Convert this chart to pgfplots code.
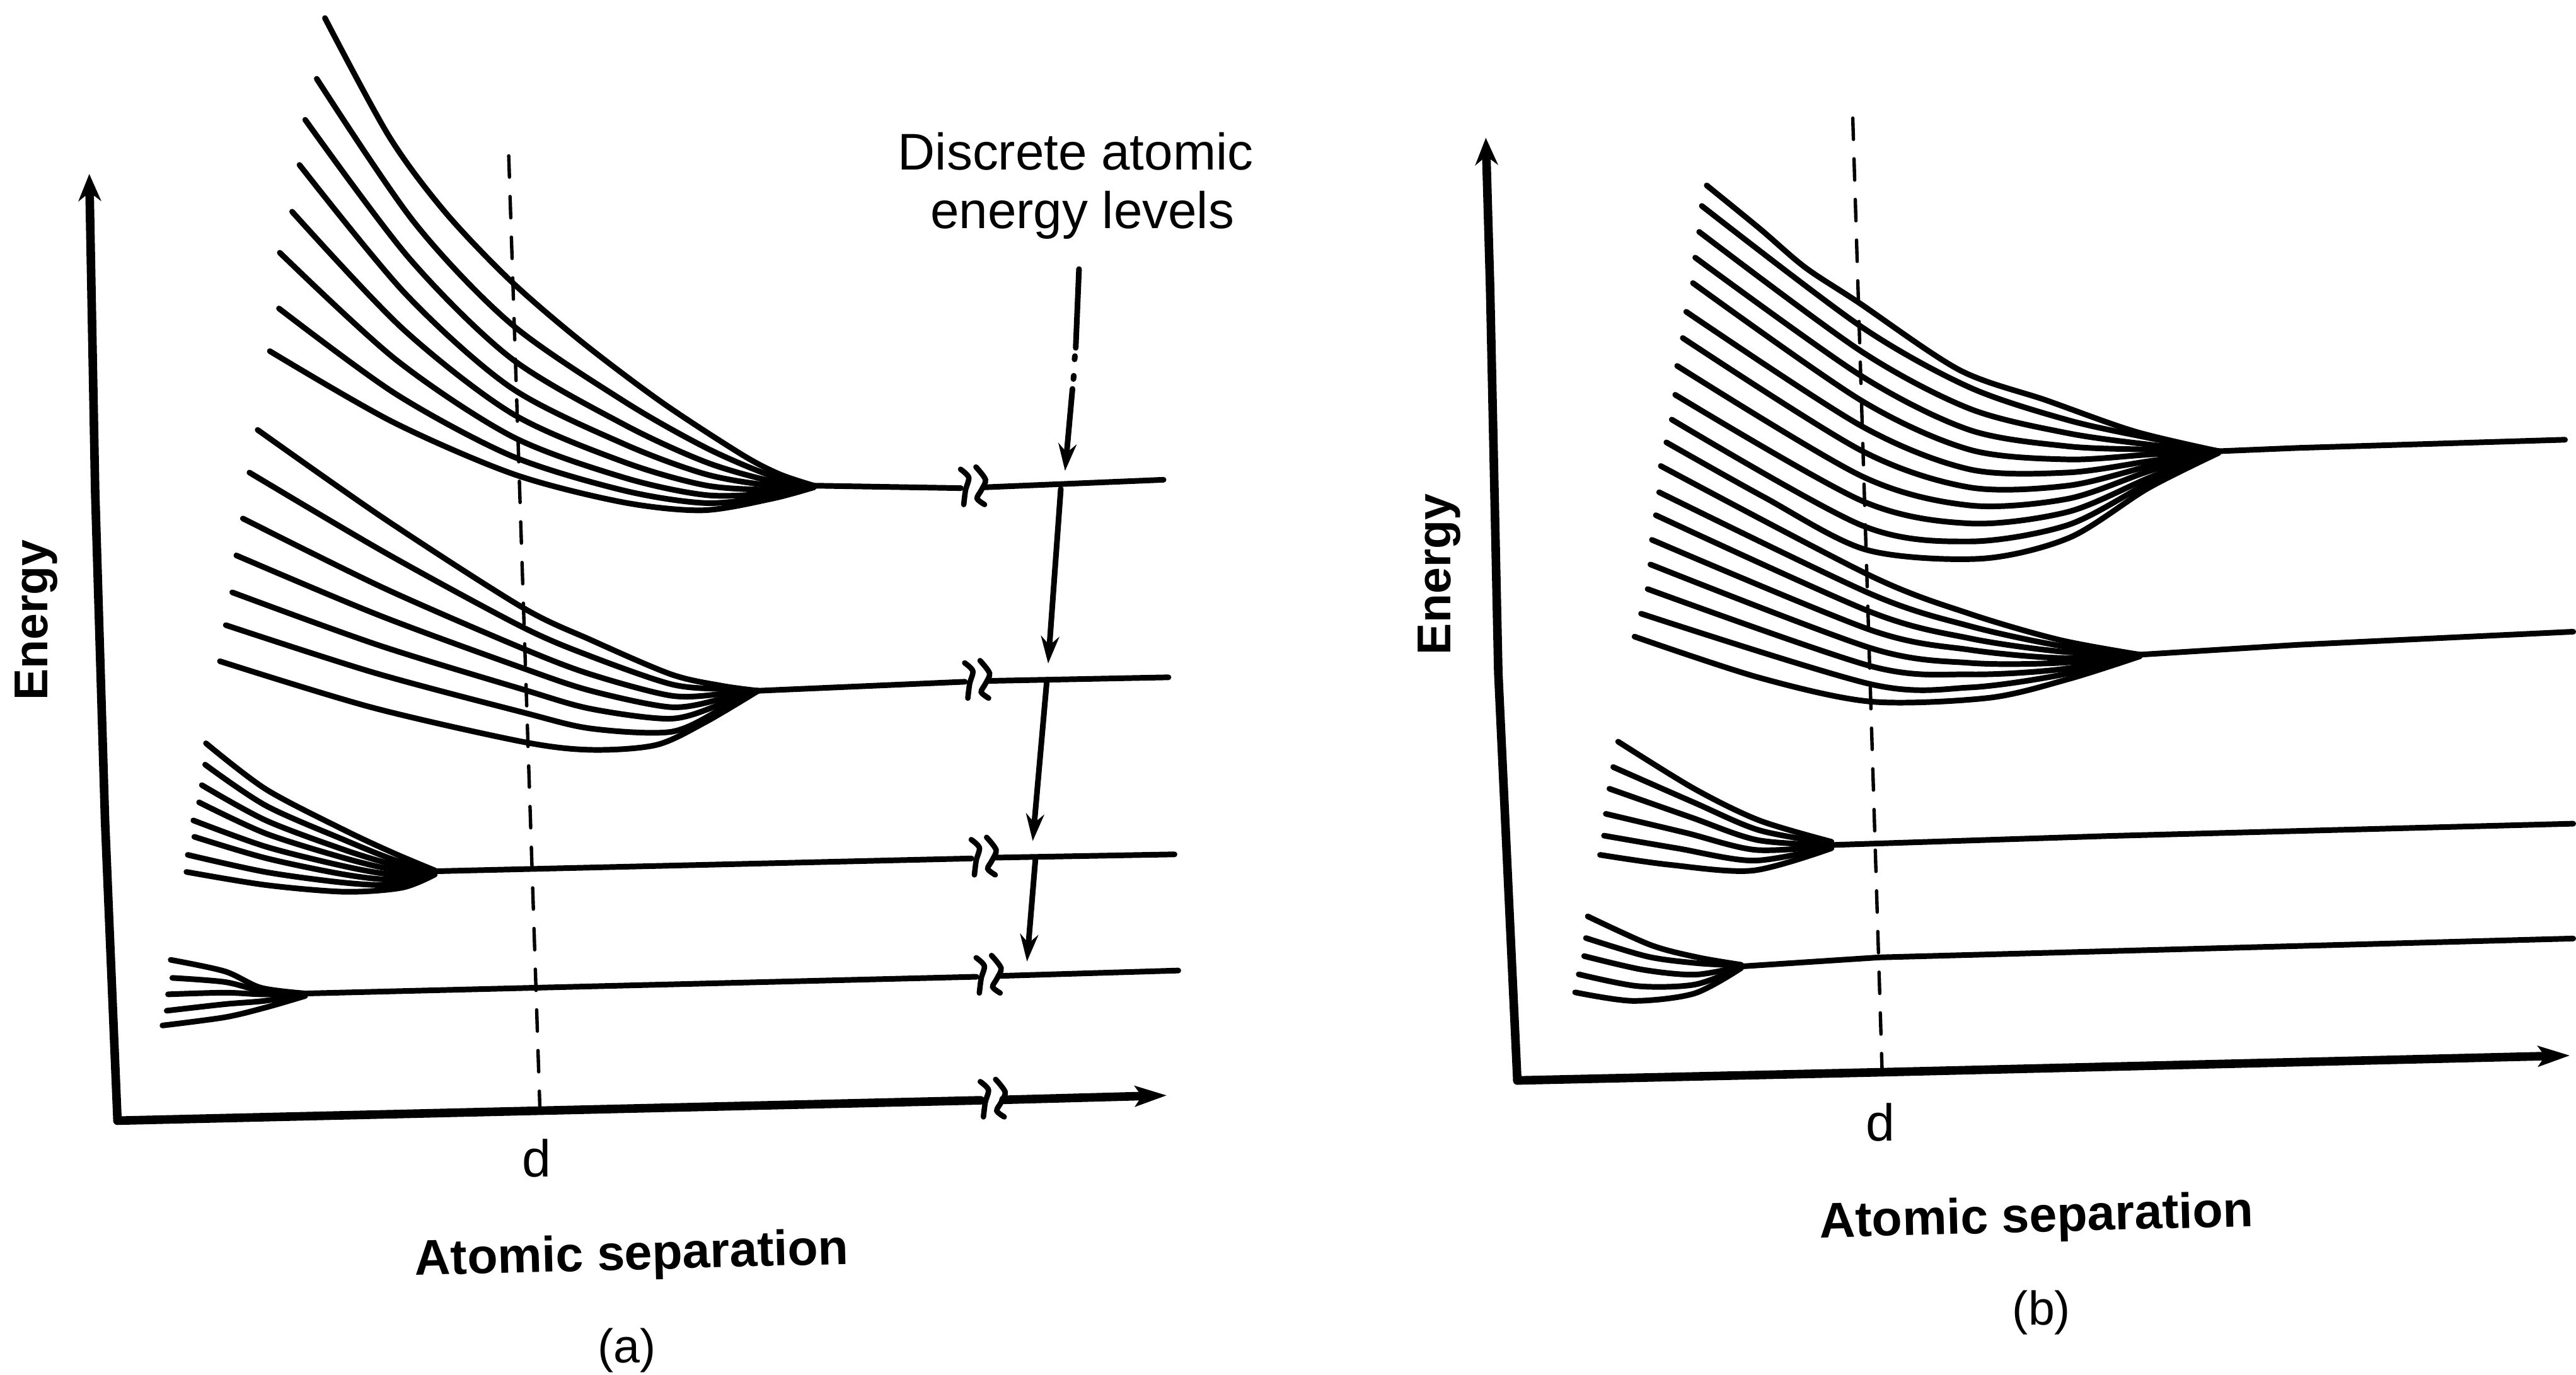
\documentclass[border=0pt]{standalone}
\usepackage{pgfplots}
\pgfplotsset{compat=1.18}
\usepackage{fontspec}
\setmainfont{Liberation Sans}
\usetikzlibrary{arrows.meta}

\newcommand{\brk}[2]{%
  \draw[line width=1.2pt, line cap=round, shift={(axis cs:#1,#2)}]
    plot[smooth] coordinates {(-2.6pt,4.1pt) (-0.8pt,2.3pt) (-1.5pt,-0.5pt) (-1.9pt,-3.7pt)};
  \draw[line width=1.2pt, line cap=round, shift={(axis cs:#1,#2)}]
    plot[smooth] coordinates {(0.8pt,4.6pt) (2.9pt,1.8pt) (2.0pt,-0.5pt) (1.05pt,-2.35pt) (2.7pt,-3.7pt)};
}

\begin{document}
\begin{tikzpicture}
\begin{axis}[
  scale only axis, width=20cm, height=10.689cm,
  xmin=0, xmax=1568, ymin=0, ymax=838, y dir=reverse,
  hide axis, clip=false,
  cycle list={{black,solid}},
  every axis plot/.append style={black, solid, line width=1.25pt, no markers, line cap=round, line join=round},
]
% ================= PANEL (a) =================
% axes
\addplot[black, line width=1.9pt, -{Stealth[length=6pt,width=5pt]}] coordinates {(71.6,683) (64,500) (58,300) (54.4,106)};
\addplot[black, line width=1.9pt] coordinates {(71.6,683) (597.5,670.6)};
\addplot[black, line width=1.9pt, -{Stealth[length=7pt,width=4.5pt,inset=1.5pt]}] coordinates {(611.5,670.3) (711,667.6)};
% dashed d line
\addplot[black, line width=0.75pt, dash pattern=on 4.7pt off 4.3pt] coordinates {(310,95) (329,676)};

% level 1 fan (a)
\addplot[black, smooth] coordinates {(198,11) (237,83) (271,129) (311,171) (354,208) (403,245) (452,277) (475,289) (496,296)};
\addplot[black, smooth] coordinates {(193,48) (252,135) (311,197) (380,244.4) (430,272.8) (470,290) (496,296)};
\addplot[black, smooth] coordinates {(186,73) (249,157) (311,218) (380,258.6) (430,281.6) (470,293.2) (496,296)};
\addplot[black, smooth] coordinates {(182.5,100.5) (247,179) (311,236) (380,270.5) (430,289) (470,295.9) (496,296)};
\addplot[black, smooth] coordinates {(178,129) (245,200) (312,252) (380,281.5) (430,295.8) (470,298.4) (496,296)};
\addplot[black, smooth] coordinates {(170.5,154) (241,219) (312,266) (380,291) (430,301.7) (470,300.6) (496,296)};
\addplot[black, smooth] coordinates {(170,188) (241,240) (312,278) (380,298.9) (430,306.6) (470,302.4) (496,296)};
\addplot[black, smooth] coordinates {(164.4,214) (239,257) (313,289) (379,306) (428,311) (470,304) (496,297)};
\addplot[black] coordinates {(496,296) (585.5,297.5)};
\addplot[black] coordinates {(599.5,297) (709,292.4)};

% level 2 fan (a)
\addplot[black, smooth] coordinates {(157,262) (234,316) (318,370) (360,390) (409,411) (440,418) (462,421)};
\addplot[black, smooth] coordinates {(152,288) (235,337) (318,382) (360,400) (409,417) (440,420) (462,421)};
\addplot[black, smooth] coordinates {(148,316) (233,358) (318,395) (360,411) (409,424) (440,423) (462,421)};
\addplot[black, smooth] coordinates {(144,338.5) (231,375) (318,407) (360,421) (409,431) (440,426) (462,421)};
\addplot[black, smooth] coordinates {(141.5,361) (230,393) (318,420) (360,432) (409,438) (440,429) (462,421)};
\addplot[black, smooth] coordinates {(137.6,381) (228,410) (318,434) (360,444) (409,446) (440,432) (462,421)};
\addplot[black, smooth] coordinates {(134,403) (226,431) (318,452) (360,457) (400,454) (430,440) (462,421)};
\addplot[black] coordinates {(462,421) (588,415.5)};
\addplot[black] coordinates {(602,415) (712,412.8)};

% level 3 fan (a)
\addplot[black, smooth] coordinates {(125.5,453) (162,481) (210,506) (240,520) (265,530.5)};
\addplot[black, smooth] coordinates {(125,466) (162,491) (210,512) (240,524) (265,531)};
\addplot[black, smooth] coordinates {(123,478.5) (162,500) (210,518) (240,527) (265,531)};
\addplot[black, smooth] coordinates {(121.3,489) (162,508) (210,523) (240,530) (265,531)};
\addplot[black, smooth] coordinates {(117.8,500) (162,516) (210,528) (240,533) (265,531)};
\addplot[black, smooth] coordinates {(118.4,510) (162,523) (210,533) (240,536) (265,531)};
\addplot[black, smooth] coordinates {(114.4,521) (162,531.5) (210,538) (240,539) (265,531.5)};
\addplot[black, smooth] coordinates {(113.6,531.4) (162,539.4) (210,543.5) (245,541) (265,533)};
\addplot[black] coordinates {(265,531) (592,523.2)};
\addplot[black] coordinates {(606,522.7) (715.7,520.7)};

% level 4 fan (a)
\addplot[black, smooth] coordinates {(104,585) (137,592) (159,602) (186,605.5)};
\addplot[black, smooth] coordinates {(105,596) (137,598.5) (160,604) (186,605.5)};
\addplot[black, smooth] coordinates {(102.4,606) (137,605) (160,606) (186,605.5)};
\addplot[black, smooth] coordinates {(101.6,616) (137,612) (161,610) (186,606)};
\addplot[black, smooth] coordinates {(99,625) (137,620) (162,614) (186,607)};
\addplot[black] coordinates {(186,605.5) (595,595.3)};
\addplot[black] coordinates {(609,594.8) (718,591.5)};

% break marks (a)
\brk{592.5}{297.3}
\brk{595}{415.3}
\brk{599}{523}
\brk{602}{595}
\brk{604.5}{670.5}

% arrows from label (a)
\addplot[black] coordinates {(657.5,164) (655.5,212)};
\addplot[black] coordinates {(655,217) (654.8,219)};
\addplot[black] coordinates {(654.3,229) (654.1,231)};
\addplot[black, -{Stealth[length=6pt,width=4pt]}] coordinates {(653.5,237) (649,287)};
\addplot[black, -{Stealth[length=6pt,width=4pt]}] coordinates {(646.4,298) (638.7,404.4)};
\addplot[black, -{Stealth[length=6pt,width=4pt]}] coordinates {(637.8,416) (629.3,512.6)};
\addplot[black, -{Stealth[length=6pt,width=4pt]}] coordinates {(631,523) (625.8,586)};

% ================= PANEL (b) =================
\addplot[black, line width=1.9pt, -{Stealth[length=6pt,width=5pt]}] coordinates {(924.6,658.5) (913,410) (908,175) (905.4,84)};
\addplot[black, line width=1.9pt, -{Stealth[length=7pt,width=4.5pt,inset=1.5pt]}] coordinates {(924.6,658.5) (1146,653.5) (1566,643.3)};
\addplot[black, line width=0.75pt, dash pattern=on 4.7pt off 4.3pt] coordinates {(1129,72) (1147,657)};

% level 1 fan (b)
\addplot[black, smooth] coordinates {(1040,113) (1072.5,139.5) (1100,163) (1132,184) (1194,225.5) (1247,244) (1301,263) (1352,275)};
\addplot[black, smooth] coordinates {(1037,125.5) (1134,199) (1200,236) (1260,256) (1310,267) (1352,275)};
\addplot[black, smooth] coordinates {(1035.4,141.3) (1134,214) (1200,249) (1260,264) (1310,271) (1352,275)};
\addplot[black, smooth] coordinates {(1033,157) (1134,229) (1200,262) (1260,272) (1310,274) (1352,275)};
\addplot[black, smooth] coordinates {(1031.6,172.5) (1134,244) (1200,274) (1260,280) (1310,277) (1352,275)};
\addplot[black, smooth] coordinates {(1027.5,190) (1134,259.5) (1200,286) (1260,288) (1310,281) (1352,275)};
\addplot[black, smooth] coordinates {(1025.4,206) (1134,274.5) (1200,297) (1260,296) (1310,284) (1352,275)};
\addplot[black, smooth] coordinates {(1022,223) (1134,290) (1200,308) (1260,304) (1310,287) (1352,275)};
\addplot[black, smooth] coordinates {(1020.8,240.6) (1134,305) (1200,319) (1260,312) (1310,291) (1352,275)};
\addplot[black, smooth] coordinates {(1018.7,255.7) (1134,320) (1200,330) (1260,320) (1310,294) (1352,275.5)};
\addplot[black, smooth] coordinates {(1015.4,269.6) (1075,303) (1137,335) (1207,340.5) (1261,327.7) (1309,297.5) (1352,276)};
\addplot[black] coordinates {(1352,275) (1400,273) (1563,268)};

% level 2 fan (b)
\addplot[black, smooth] coordinates {(1012,284) (1140,351) (1200,374) (1255,390) (1304,399)};
\addplot[black, smooth] coordinates {(1011,300) (1140,362) (1200,381.5) (1255,393.5) (1304,399)};
\addplot[black, smooth] coordinates {(1009,314) (1140,373) (1200,389) (1255,397) (1304,399)};
\addplot[black, smooth] coordinates {(1006.6,329) (1140,384) (1200,396) (1255,401) (1304,399)};
\addplot[black, smooth] coordinates {(1005.7,344) (1140,395) (1200,404) (1255,404) (1304,399)};
\addplot[black, smooth] coordinates {(1004,359) (1140,406) (1200,411) (1255,408) (1304,399)};
\addplot[black, smooth] coordinates {(1000,374) (1140,417) (1200,419) (1255,411.5) (1304,399.5)};
\addplot[black, smooth] coordinates {(996,388) (1072,413) (1140,427.6) (1212,425.3) (1261,413.7) (1304,400)};
\addplot[black] coordinates {(1304,399) (1400,393) (1568,385)};

% level 3 fan (b)
\addplot[black, smooth] coordinates {(986,452) (1032.4,480.7) (1072,500) (1116,513)};
\addplot[black, smooth] coordinates {(983,467.5) (1032,489) (1072,506) (1116,514)};
\addplot[black, smooth] coordinates {(980.7,480.7) (1030,498) (1071,512) (1116,515)};
\addplot[black, smooth] coordinates {(978.5,496) (1027,507.5) (1070,518) (1116,515.5)};
\addplot[black, smooth] coordinates {(977.4,509.3) (1022,517) (1069,524.5) (1116,516)};
\addplot[black, smooth] coordinates {(975,521) (1017,527) (1068,530.6) (1116,517)};
\addplot[black] coordinates {(1116,515) (1285,509.5) (1568,502)};

% level 4 fan (b)
\addplot[black, smooth] coordinates {(967.5,558.5) (1006,576) (1034.6,583.5) (1061,588)};
\addplot[black, smooth] coordinates {(966.4,571.7) (1004,583) (1034,587) (1061,588.5)};
\addplot[black, smooth] coordinates {(965.3,582.7) (1001,591) (1033,594) (1061,589)};
\addplot[black, smooth] coordinates {(962,593.8) (998,601) (1033,600) (1061,589.5)};
\addplot[black, smooth] coordinates {(959.8,604.8) (995,610) (1032.4,605.5) (1061,590)};
\addplot[black] coordinates {(1061,589) (1145,583.5) (1568,572)};

% ================= TEXT =================
\node[inner sep=0pt, font=\fontsize{11.4}{13}\selectfont] at (axis cs:655.5,92.4) {Discrete atomic};
\node[inner sep=0pt, font=\fontsize{11.4}{13}\selectfont] at (axis cs:659.5,131) {energy levels};
\node[inner sep=0pt, font=\bfseries\fontsize{10.5}{12}\selectfont, rotate=90] at (axis cs:22,378) {Energy};
\node[inner sep=0pt, font=\bfseries\fontsize{10.5}{12}\selectfont, rotate=90] at (axis cs:877,350) {Energy};
\node[inner sep=0pt, font=\fontsize{11.5}{13}\selectfont] at (axis cs:327,706) {d};
\node[inner sep=0pt, font=\fontsize{11.5}{13}\selectfont] at (axis cs:1146,684) {d};
\node[inner sep=0pt, font=\bfseries\fontsize{11}{13}\selectfont, rotate=1.5] at (axis cs:385,766) {Atomic separation};
\node[inner sep=0pt, font=\bfseries\fontsize{11}{13}\selectfont, rotate=1.5] at (axis cs:1241,743) {Atomic separation};
\node[inner sep=0pt, font=\fontsize{10.5}{12}\selectfont] at (axis cs:382,823) {(a)};
\node[inner sep=0pt, font=\fontsize{10.5}{12}\selectfont] at (axis cs:1244,800) {(b)};

\path (rel axis cs:0,0) rectangle (rel axis cs:1,1);
\end{axis}
\end{tikzpicture}
\end{document}
